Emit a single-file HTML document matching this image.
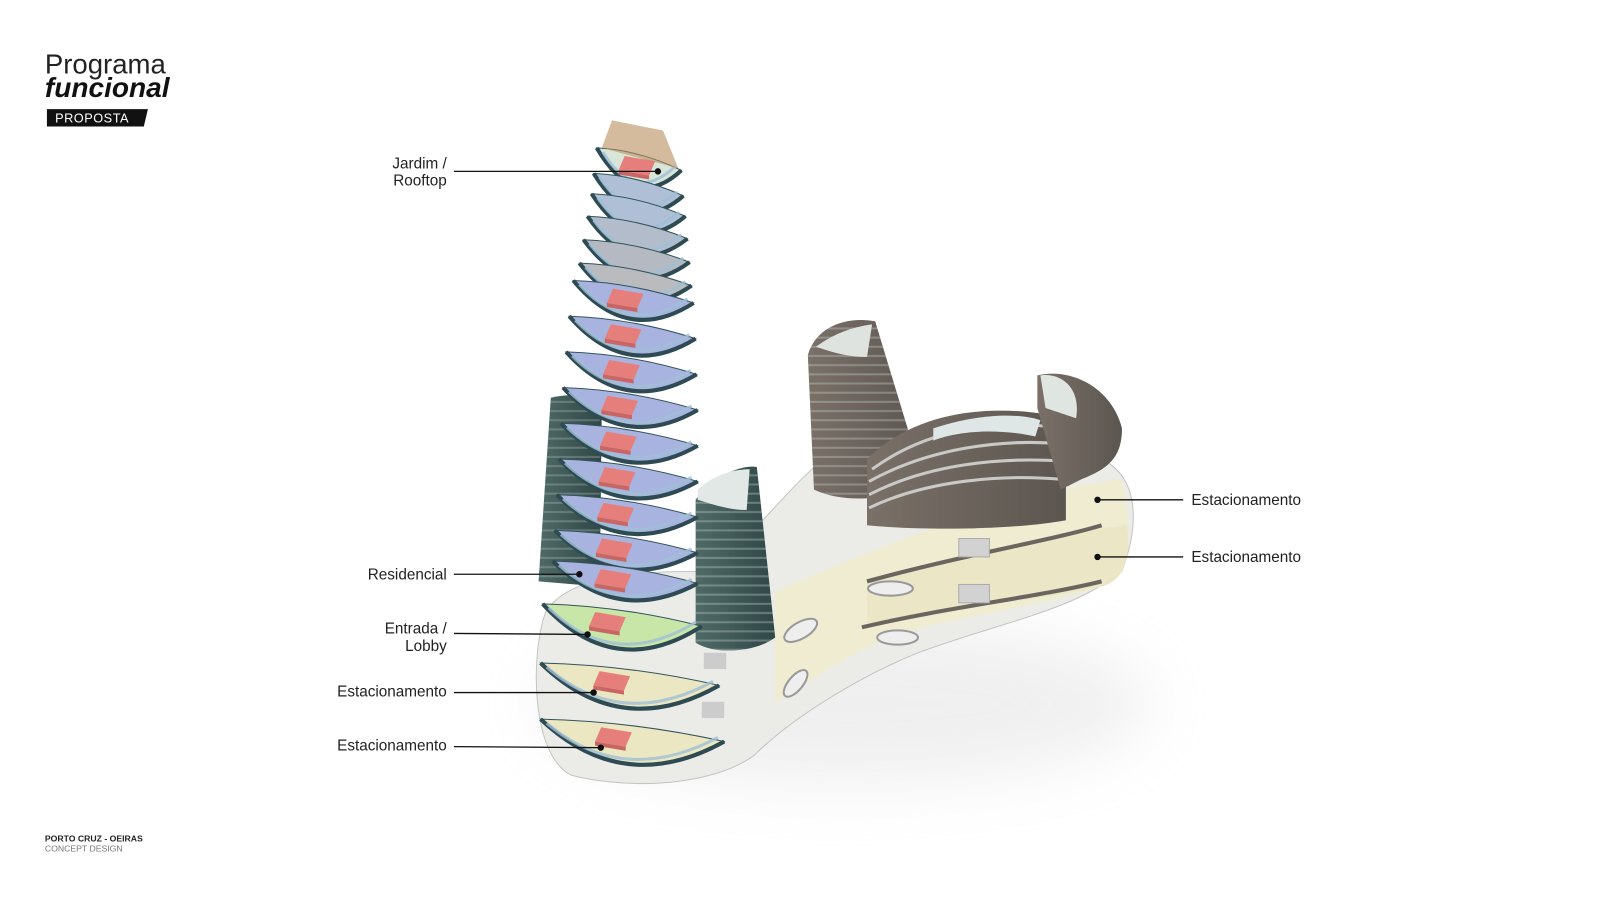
<!DOCTYPE html>
<html><head><meta charset="utf-8"><style>
html,body{margin:0;padding:0;background:#fff;width:1600px;height:900px;overflow:hidden}
svg{display:block}
text{font-family:"Liberation Sans",sans-serif}
</style></head><body>
<svg id="s" width="1600" height="900" viewBox="0 0 1600 900" xmlns="http://www.w3.org/2000/svg">
<defs>
<filter id="bl" x="-50%" y="-50%" width="200%" height="200%"><feGaussianBlur stdDeviation="30"/></filter>
<linearGradient id="tw" x1="0" x2="1"><stop offset="0" stop-color="#4f6a66"/><stop offset="1" stop-color="#2f4747"/></linearGradient>
<linearGradient id="br" x1="0" x2="1"><stop offset="0" stop-color="#7a7068"/><stop offset="1" stop-color="#5c5650"/></linearGradient>
<pattern id="st" width="10" height="9" patternUnits="userSpaceOnUse"><rect y="6" width="10" height="2" fill="#c9d2d0" opacity=".7"/></pattern>
<clipPath id="c1"><path d="M792 348 C800 320 830 310 858 315 L905 470 C880 490 830 495 798 480Z"/></clipPath>
<clipPath id="c2"><path d="M528 570 L540 390 C560 385 580 388 590 395 L588 575Z"/></clipPath>
<clipPath id="c3"><path d="M682 490 C700 465 730 455 742 458 L760 625 C740 640 700 642 682 630Z"/></clipPath>
</defs>
<g transform="scale(1.02)">
<ellipse cx="830" cy="690" rx="300" ry="80" fill="#ccc" opacity=".3" filter="url(#bl)"/>
<path d="M535 600 C560 560 640 560 700 560 C760 500 780 470 820 440 C900 420 1000 440 1080 450 C1120 470 1115 520 1100 560 C1050 600 980 610 900 640 C850 660 780 700 740 740 C700 770 620 775 560 760 C520 740 520 640 535 600Z" fill="#ebebe8" stroke="#c4c4c4"/>
<path d="M760 580 C850 540 1000 480 1100 470 C1112 520 1105 560 1080 575 C1000 600 900 610 860 630 C820 650 790 670 760 690Z" fill="#efecd2"/>
<path d="M850 570 C950 540 1050 520 1105 515 C1110 550 1100 570 1080 575 C980 595 900 600 850 615Z" fill="#ebe7c6"/>
<path d="M845 615 C930 595 1020 585 1080 570" fill="none" stroke="#6b655f" stroke-width="4"/>
<path d="M850 570 C940 545 1030 530 1080 515" fill="none" stroke="#6b655f" stroke-width="4"/>
<rect x="940" y="528" width="30" height="18" fill="#d2d2d2" stroke="#aaa"/>
<rect x="940" y="573" width="30" height="18" fill="#d2d2d2" stroke="#aaa"/>
<ellipse cx="873" cy="577" rx="22" ry="7" fill="#eee" stroke="#999" stroke-width="2"/>
<ellipse cx="785" cy="618" rx="18" ry="8" fill="#eee" stroke="#999" stroke-width="2" transform="rotate(-30 785 618)"/>
<ellipse cx="880" cy="625" rx="20" ry="7" fill="#eee" stroke="#999" stroke-width="2"/>
<ellipse cx="780" cy="670" rx="16" ry="7" fill="#eee" stroke="#999" stroke-width="2" transform="rotate(-50 780 670)"/>
<path d="M792 348 C800 320 830 310 858 315 L905 470 C880 490 830 495 798 480Z" fill="url(#br)"/>
<rect x="792" y="315" width="113" height="180" fill="url(#st)" opacity=".5" clip-path="url(#c1)"/>
<path d="M800 340 C820 325 840 320 855 318 L850 350 C830 350 815 345 800 340Z" fill="#dfe3e0"/>
<path d="M850 450 C900 400 980 395 1045 410 L1045 510 C990 520 900 520 850 515Z" fill="url(#br)"/>
<path d="M855 460 C910 420 980 410 1040 420 M852 472 C910 440 980 430 1040 435 M852 485 C910 455 980 448 1042 452 M852 498 C910 470 985 465 1042 470" stroke="#c9c9c6" stroke-width="3" fill="none"/>
<path d="M915 420 C960 405 1000 405 1020 412 L1015 428 C980 420 940 422 915 432Z" fill="#dfe6e6"/>
<path d="M1017 368 C1050 360 1090 380 1100 420 C1100 450 1085 460 1060 470 L1040 480 L1017 400Z" fill="url(#br)"/>
<path d="M1020 368 C1040 365 1060 380 1055 410 L1025 400Z" fill="#dfe6e2"/>
<path d="M528 570 L540 390 C560 385 580 388 590 395 L588 575Z" fill="url(#tw)"/>
<rect x="528" y="390" width="60" height="185" fill="url(#st)" opacity=".4" clip-path="url(#c2)"/>
<path d="M682 490 C700 465 730 455 742 458 L760 625 C740 640 700 642 682 630Z" fill="url(#tw)"/>
<rect x="682" y="460" width="78" height="180" fill="url(#st)" opacity=".5" clip-path="url(#c3)"/>
<path d="M684 480 C700 465 720 460 735 460 L732 500 C715 500 700 495 684 490Z" fill="#e2e8e6"/>
<rect x="690" y="640" width="22" height="16" fill="#ccc"/>
<rect x="688" y="688" width="22" height="16" fill="#ccc"/>
<g id="floors"></g>
<path d="M590 145 L600 118 L650 128 L665 165Z" fill="#b88e5c" opacity=".6"/>
<g stroke="#111" stroke-width="1.3" fill="#111">
<line x1="445" y1="168" x2="645" y2="168"/><circle cx="645" cy="168" r="2.5"/>
<line x1="445" y1="563" x2="568" y2="563"/><circle cx="568" cy="563" r="2.5"/>
<line x1="445" y1="621" x2="576" y2="622"/><circle cx="576" cy="622" r="2.5"/>
<line x1="445" y1="679" x2="582" y2="679"/><circle cx="582" cy="679" r="2.5"/>
<line x1="445" y1="732" x2="589" y2="733"/><circle cx="589" cy="733" r="2.5"/>
<line x1="1076" y1="490" x2="1160" y2="490"/><circle cx="1076" cy="490" r="2.5"/>
<line x1="1076" y1="546" x2="1160" y2="546"/><circle cx="1076" cy="546" r="2.5"/>
</g>
<g font-size="15" fill="#222" text-anchor="end">
<text x="438" y="165">Jardim /</text><text x="438" y="182">Rooftop</text>
<text x="438" y="568">Residencial</text>
<text x="438" y="621">Entrada /</text><text x="438" y="638">Lobby</text>
<text x="438" y="683">Estacionamento</text>
<text x="438" y="736">Estacionamento</text>
</g>
<g font-size="15" fill="#222">
<text x="1168" y="495">Estacionamento</text>
<text x="1168" y="551">Estacionamento</text>
</g>
<text x="44" y="72" font-size="27" fill="#222">Programa</text>
<text x="44" y="95" font-size="27.5" fill="#111" font-weight="bold" font-style="italic">funcional</text>
<path d="M46 107 L145 107 L141 124 L46 124Z" fill="#111"/>
<text x="54" y="120" font-size="12.5" fill="#fff" letter-spacing=".5">PROPOSTA</text>
<text x="44" y="825" font-size="8.5" fill="#222" font-weight="bold">PORTO CRUZ - OEIRAS</text>
<text x="44" y="835" font-size="8.5" fill="#777">CONCEPT DESIGN</text>
</g>
</svg>
<script>
var F=[[585,668,145,'#d8e6da',1],[582,670,170,'#aebfd6',0],[580,672,190,'#aebfd6',0],[576,674,212,'#b3bccb',0],[572,676,235,'#b5b9c1',0],[568,678,258,'#b9bbbe',0],
[562,680,275,'#a8b3e0',1],[558,682,310,'#a8b3e0',1],[555,683,345,'#a8b3e0',1],[552,684,380,'#a8b3e0',1],[550,684,415,'#a8b3e0',1],[548,684,450,'#a8b3e0',1],[546,684,485,'#a8b3e0',1],[544,684,520,'#a8b3e0',1],[542,684,550,'#a8b3e0',1],
[532,688,592,'#c9e6a9',1],[530,705,650,'#ebe7c2',1],[530,710,705,'#ebe7c2',1]];
var s='';
F.forEach(function(f){var L=f[0],R=f[1],T=f[2],W=R-L,d=(W>150?48:40);
s+='<path d="M'+L+' '+T+' Q'+(L+0.45*W)+' '+(T+d*1.6)+' '+R+' '+(T+22)+' Q'+(L+0.5*W)+' '+(T+2)+' '+L+' '+T+'Z" fill="'+f[3]+'" stroke="#33545c" stroke-width="1"/>';
s+='<path d="M'+L+' '+T+' Q'+(L+0.45*W)+' '+(T+d*1.6)+' '+R+' '+(T+22)+'" fill="none" stroke="#2e4a52" stroke-width="4"/>';
s+='<path d="M'+(L+6)+' '+(T+4)+' Q'+(L+0.45*W)+' '+(T+d*1.4)+' '+(R-6)+' '+(T+18)+'" fill="none" stroke="#9fbfd6" stroke-width="3" opacity=".8"/>';
if(f[4]){var bx=L+0.33*W,by=T+8;s+='<path d="M'+bx+' '+by+' l30 5 l-6 14 l-30 -5Z" fill="#e67f7c"/><path d="M'+(bx-6)+' '+(by+14)+' l30 5 l0 4 l-30 -5Z" fill="#c86663"/>';}
});
document.getElementById('floors').innerHTML=s;
</script>
</body></html>
